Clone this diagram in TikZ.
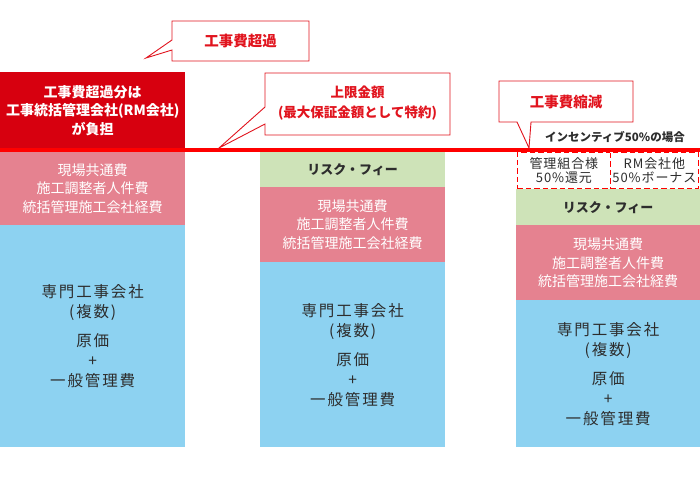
\documentclass[tikz,border=0pt]{standalone}
\usepackage{fontspec}
\setmainfont{Noto Sans CJK JP}
\newfontfamily\spc[LetterSpace=12]{Noto Sans CJK JP}
\newfontfamily\spcs[LetterSpace=7]{Noto Sans CJK JP}
\definecolor{boxred}{RGB}{215,0,15}
\definecolor{linered}{RGB}{255,0,0}
\definecolor{callred}{RGB}{225,20,30}
\definecolor{pinkc}{RGB}{229,130,144}
\definecolor{greenc}{RGB}{206,227,184}
\definecolor{bluec}{RGB}{141,210,241}
\definecolor{darktxt}{RGB}{45,45,45}
\begin{document}
\begin{tikzpicture}[x=1pt,y=-1pt,
  blk/.style={draw=none, anchor=north west, inner sep=0pt, align=center},
  redblk/.style={blk, fill=boxred, text=white, font=\bfseries\fontsize{14}{18.5}\selectfont},
  pinkblk/.style={blk, fill=pinkc, text=white, font=\fontsize{14}{18.5}\selectfont},
  greenblk/.style={blk, fill=greenc, text=darktxt, font=\bfseries\fontsize{13}{16}\selectfont},
  blueblk/.style={blk, fill=bluec, text=darktxt, font=\spc\fontsize{15.5}{20}\selectfont},
  dashblk/.style={blk, draw=linered, line width=1.8pt, dash pattern=on 5.5pt off 3pt, fill=white, text=darktxt, font=\spcs\fontsize{13}{14}\selectfont},
  callout/.style={draw=callred, line width=0.9pt, fill=white, line join=miter},
  calltxt/.style={text=callred, font=\bfseries\fontsize{14.5}{20}\selectfont, align=center, inner sep=0pt}
]
\useasboundingbox (0,0) rectangle (700,480);

% ---- left column ----
\node[redblk, minimum width=185pt, minimum height=77pt] (L0) at (0,72)
  {工事費超過分は\\工事統括管理会社(RM会社)\\が負担};
\node[pinkblk, minimum width=185pt, minimum height=73pt] (L1) at (0,152)
  {現場共通費\\施工調整者人件費\\統括管理施工会社経費};
\node[blueblk, minimum width=185pt, minimum height=222pt] (L2) at (0,225)
  {専門工事会社\\(複数)\\[9pt]原価\\+\\一般管理費};

% ---- middle column ----
\node[greenblk, minimum width=185pt, minimum height=35pt] (M0) at (260,152) {リスク・フィー};
\node[pinkblk, minimum width=185pt, minimum height=75pt] (M1) at (260,187)
  {現場共通費\\施工調整者人件費\\統括管理施工会社経費};
\node[blueblk, minimum width=185pt, minimum height=185pt] (M2) at (260,262)
  {専門工事会社\\(複数)\\[9pt]原価\\+\\一般管理費};

% ---- right column ----
\node[dashblk, minimum width=93pt, minimum height=36pt] (D1) at (516.5,151.5) {管理組合様\\50\%還元};
\node[dashblk, minimum width=88pt, minimum height=36pt] (D2) at (609.5,151.5) {RM会社他\\50\%ボーナス};
\node[greenblk, minimum width=184pt, minimum height=36pt] (R0) at (516,189) {リスク・フィー};
\node[pinkblk, minimum width=184pt, minimum height=75pt] (R1) at (516,225)
  {現場共通費\\施工調整者人件費\\統括管理施工会社経費};
\node[blueblk, minimum width=184pt, minimum height=147pt] (R2) at (516,300)
  {専門工事会社\\(複数)\\[9pt]原価\\+\\一般管理費};

% ---- red limit line ----
\coordinate (lineA) at (0,150);
\coordinate (lineB) at (700,150);
\draw[linered, line width=4pt] (lineA) -- (lineB);

\node[text=darktxt, font=\bfseries\fontsize{11.5}{14}\selectfont, inner sep=0pt] (inc) at (615,137) {インセンティブ50\%の場合};

% ---- callouts ----
\draw[callout] (172,21) -- (309,21) -- (309,61) -- (172,61) -- (172,50) -- (146,58) -- (172,40) -- cycle;
\node[calltxt] (C1) at (240.5,41) {工事費超過};

\draw[callout] (265,73) -- (450,73) -- (450,135) -- (265,135) -- (265,124) -- (219,148) -- (265,107) -- cycle;
\node[calltxt, font=\bfseries\fontsize{13.5}{20}\selectfont] (C2) at (357.5,103) {上限金額\\(最大保証金額として特約)};

\draw[callout] (499,81) -- (633,81) -- (633,122) -- (531,122) -- (529,148) -- (517,122) -- (499,122) -- cycle;
\node[calltxt] (C3) at (566,102) {工事費縮減};
\end{tikzpicture}
\end{document}
